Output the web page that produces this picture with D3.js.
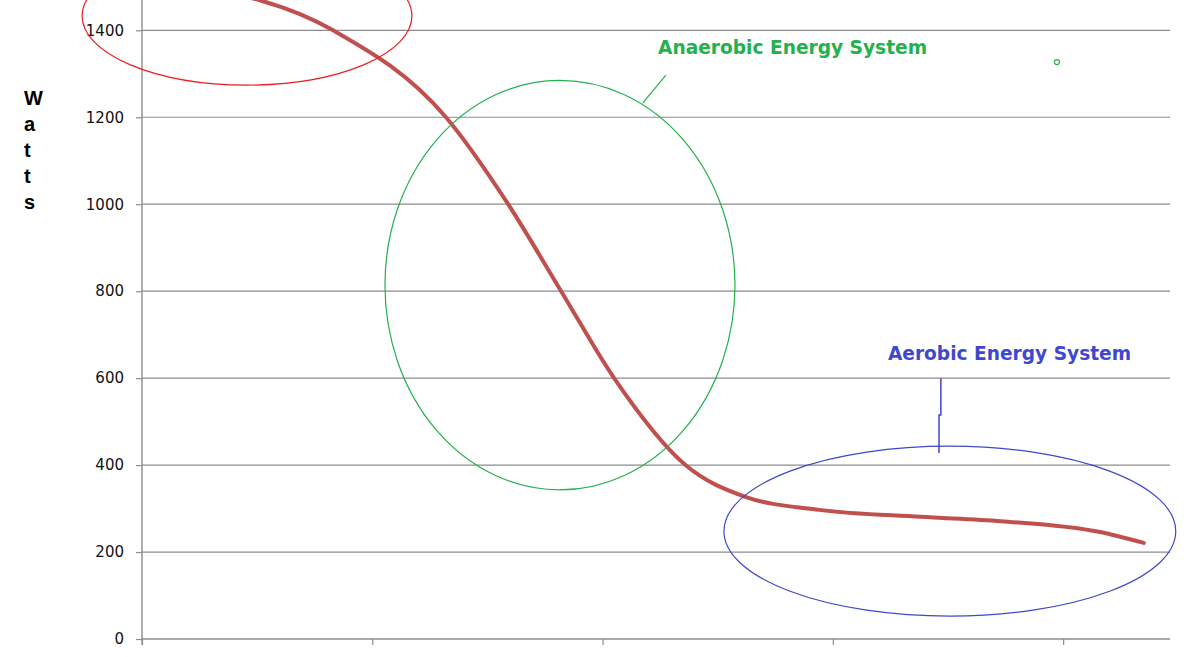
<!DOCTYPE html>
<html>
<head>
<meta charset="utf-8">
<script src="https://cdn.jsdelivr.net/npm/d3@7"></script>
<style>
  html, body { margin: 0; padding: 0; background: #fff; }
  svg { display: block; }
</style>
</head>
<body>
<div id="chart"></div>
<script>
// x in category-tick units (ticks at 0..4), y in watts
var timeUnits = [0.2, 0.83, 1.32, 1.59, 1.82, 2.05, 2.36, 2.62, 2.94, 3.38, 3.73, 4.16, 4.35]
var watts     = [1505, 1400, 1200, 1000, 800, 600, 400, 327, 297, 281, 271, 246, 221]
var yTicks = [0, 200, 400, 600, 800, 1000, 1200, 1400]
var xTicks = [0, 1, 2, 3, 4]
var axisTitle = "Watts"

var anaerobicLabel = "Anaerobic Energy System"
var aerobicLabel = "Aerobic Energy System"

var W = 1200, H = 657
var svg = d3.select("#chart").append("svg")
  .attr("width", W).attr("height", H)

var x = d3.scaleLinear().domain([0, 4.464]).range([142, 1170])
var y = d3.scaleLinear().domain([0, 1400]).range([639, 30.3])

// gridlines
svg.append("g").selectAll("line")
  .data(yTicks.slice(1))
  .enter().append("line")
  .attr("x1", x(0)).attr("x2", x.range()[1])
  .attr("y1", function(d){ return y(d) }).attr("y2", function(d){ return y(d) })
  .attr("stroke", "#8c8c8c").attr("stroke-width", 1.2)

// y axis
var yAxis = d3.axisLeft(y).tickValues(yTicks).tickSize(6).tickPadding(12).tickFormat(d3.format("d"))
var gy = svg.append("g").attr("transform", "translate(" + x(0) + ",0)").call(yAxis)
gy.select(".domain").remove()
gy.selectAll(".tick line").attr("stroke", "#8c8c8c").attr("stroke-width", 1.2)
gy.selectAll(".tick text")
  .attr("font-family", "DejaVu Sans, Verdana, sans-serif")
  .attr("font-size", 15).attr("fill", "#111")
svg.append("line")
  .attr("x1", x(0)).attr("x2", x(0)).attr("y1", 0).attr("y2", y(0) + 6)
  .attr("stroke", "#8c8c8c").attr("stroke-width", 1.4)

// x axis
var xAxis = d3.axisBottom(x).tickValues(xTicks).tickSize(6).tickFormat("")
var gx = svg.append("g").attr("transform", "translate(0," + y(0) + ")").call(xAxis)
gx.select(".domain").attr("stroke", "#8c8c8c").attr("stroke-width", 1.4)
  .attr("d", "M" + x(0) + ",0H" + x.range()[1])
gx.selectAll(".tick line").attr("stroke", "#8c8c8c").attr("stroke-width", 1.2)

// vertical axis title, stacked letters
svg.append("g").selectAll("text")
  .data(axisTitle.split(""))
  .enter().append("text")
  .attr("x", 24)
  .attr("y", function(d, i){ return 105 + i * 26 })
  .attr("font-family", "Liberation Sans, Arial, sans-serif")
  .attr("font-weight", "bold").attr("font-size", 20)
  .attr("fill", "#000")
  .text(function(d){ return d })

// power curve
var pts = timeUnits.map(function(t, i){ return [t, watts[i]] })
var line = d3.line()
  .x(function(d){ return x(d[0]) })
  .y(function(d){ return y(d[1]) })
  .curve(d3.curveMonotoneX)
svg.append("path")
  .datum(pts)
  .attr("d", line)
  .attr("fill", "none")
  .attr("stroke", "#c0504d")
  .attr("stroke-width", 4)
  .attr("stroke-linecap", "round")

// hand-drawn annotations (data units)
var ellipses = [
  { cx: 0.456, cy: 1433, rx: 0.716, ry: 159, color: "#ed1c24" },
  { cx: 1.815, cy: 814,  rx: 0.760, ry: 471, color: "#22b14c" },
  { cx: 3.508, cy: 248,  rx: 0.981, ry: 195.5, color: "#3f48cc" }
]
svg.append("g").selectAll("ellipse")
  .data(ellipses)
  .enter().append("ellipse")
  .attr("cx", function(d){ return x(d.cx) })
  .attr("cy", function(d){ return y(d.cy) })
  .attr("rx", function(d){ return x(d.rx) - x(0) })
  .attr("ry", function(d){ return y(0) - y(d.ry) })
  .attr("fill", "none")
  .attr("stroke", function(d){ return d.color })
  .attr("stroke-width", 1.2)

var greenLeader = [[2.175, 1233], [2.275, 1297]]
var blueLeader = [[3.469, 600], [3.469, 515], [3.461, 515], [3.461, 428]]
var plain = d3.line().x(function(d){ return x(d[0]) }).y(function(d){ return y(d[1]) })
svg.append("path").attr("d", plain(greenLeader))
  .attr("fill", "none").attr("stroke", "#22b14c").attr("stroke-width", 1.2)
svg.append("path").attr("d", plain(blueLeader))
  .attr("fill", "none").attr("stroke", "#3f48cc").attr("stroke-width", 1.5)

svg.append("circle")
  .attr("cx", x(3.973)).attr("cy", y(1327)).attr("r", 2.5)
  .attr("fill", "none").attr("stroke", "#22b14c").attr("stroke-width", 1.2)

svg.append("text")
  .attr("x", x(2.241)).attr("y", y(1345))
  .attr("font-family", "DejaVu Sans, Verdana, sans-serif")
  .attr("font-weight", "bold").attr("font-size", 18.6)
  .attr("fill", "#22b14c")
  .text(anaerobicLabel)

svg.append("text")
  .attr("x", x(3.239)).attr("y", y(642))
  .attr("font-family", "DejaVu Sans, Verdana, sans-serif")
  .attr("font-weight", "bold").attr("font-size", 18.6)
  .attr("fill", "#3f48cc")
  .text(aerobicLabel)
</script>
</body>
</html>
